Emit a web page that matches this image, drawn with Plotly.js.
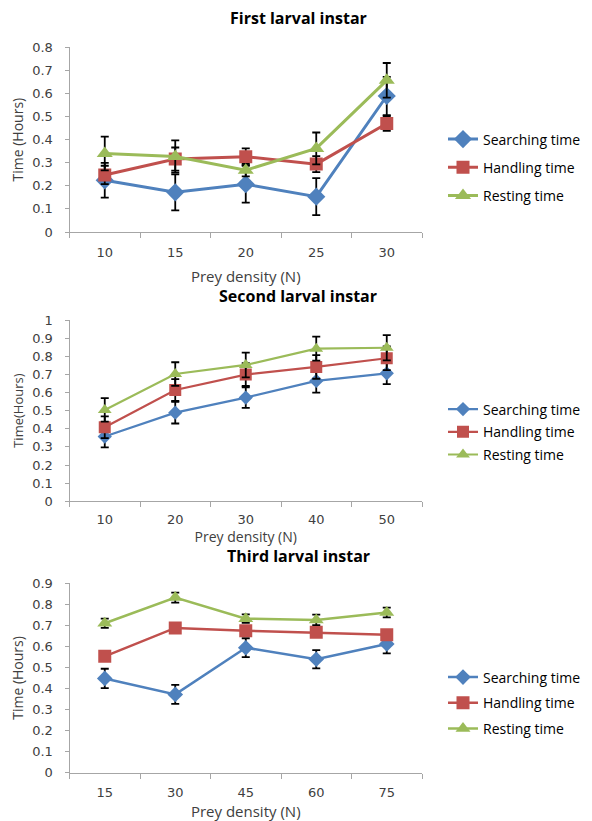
<!DOCTYPE html>
<html>
<head>
<meta charset="utf-8">
<script src="https://cdn.plot.ly/plotly-3.0.1.min.js"></script>
<style>html,body{margin:0;padding:0;background:#fff;}#chart{width:592px;height:821px;}</style>
</head>
<body>
<div id="chart"></div>
<script>
// ---- data ----
var seriesNames = ["Searching time", "Handling time", "Resting time"];
var panelTitles = ["First larval instar", "Second larval instar", "Third larval instar"];
var yTitles = ["Time (Hours)", "Time(Hours)", "Time (Hours)"];
var xTitle = "Prey density (N)";

var firstX = ["10", "15", "20", "25", "30"];
var firstSearch = [0.224, 0.172, 0.207, 0.153, 0.589];
var firstSearchErr = [0.075, 0.078, 0.080, 0.080, 0.083];
var firstHandle = [0.247, 0.316, 0.326, 0.294, 0.470];
var firstHandleErr = [0.040, 0.050, 0.036, 0.035, 0.032];
var firstRest = [0.340, 0.327, 0.268, 0.362, 0.657];
var firstRestErr = [0.073, 0.070, 0.027, 0.069, 0.075];

var secondX = ["10", "20", "30", "40", "50"];
var secondSearch = [0.357, 0.489, 0.572, 0.664, 0.706];
var secondSearchErr = [0.060, 0.060, 0.057, 0.065, 0.060];
var secondHandle = [0.408, 0.614, 0.699, 0.741, 0.789];
var secondHandleErr = [0.060, 0.060, 0.063, 0.065, 0.065];
var secondRest = [0.504, 0.702, 0.752, 0.842, 0.847];
var secondRestErr = [0.065, 0.065, 0.068, 0.066, 0.070];

var thirdX = ["15", "30", "45", "60", "75"];
var thirdSearch = [0.448, 0.372, 0.594, 0.539, 0.612];
var thirdSearchErr = [0.046, 0.045, 0.045, 0.043, 0.045];
var thirdHandle = [0.553, 0.688, 0.675, 0.667, 0.656];
var thirdHandleErr = [0.010, 0.010, 0.010, 0.010, 0.010];
var thirdRest = [0.710, 0.832, 0.732, 0.726, 0.761];
var thirdRestErr = [0.022, 0.024, 0.020, 0.025, 0.023];

var yRanges = [[0, 0.8], [0, 1], [0, 0.9]];
var yDtick = [0.1, 0.1, 0.1];

// ---- styling ----
var colors = ["#4F81BD", "#C0504D", "#9BBB59"];
var symbols = ["diamond", "square", "triangle-up"];
var W = 592, H = 821;
var xDom = [69.5 / W, 422 / W];
var yDoms = [
  [1 - 232 / H, 1 - 47.3 / H],
  [1 - 501.3 / H, 1 - 320 / H],
  [1 - 772.7 / H, 1 - 583.3 / H]
];
var lineW = [3, 2.2, 2.5];
var markerSizes = [[14, 13, 14], [11, 12, 12], [12, 13, 13]];
var titleY = [18, 296, 556];
var legendTop = [123.5, 393.5, 661.5];
var legendGap = [7, 1.5, 4.5];
var yTitleSize = [14, 13, 14];
var xTickStandoff = [8, 6, 8];
var xTitleStandoff = [12, 3, 8];
var xTitleSize = [15, 14, 15];
var axisGray = "#a6a6a6";

var panels = [
  {x: firstX, ys: [firstSearch, firstHandle, firstRest], es: [firstSearchErr, firstHandleErr, firstRestErr]},
  {x: secondX, ys: [secondSearch, secondHandle, secondRest], es: [secondSearchErr, secondHandleErr, secondRestErr]},
  {x: thirdX, ys: [thirdSearch, thirdHandle, thirdRest], es: [thirdSearchErr, thirdHandleErr, thirdRestErr]}
];

var data = [];
var layout = {
  width: W, height: H,
  margin: {l: 0, r: 0, t: 0, b: 0},
  paper_bgcolor: "#ffffff", plot_bgcolor: "#ffffff",
  font: {family: "Open Sans, DejaVu Sans, sans-serif", color: "#404040"},
  showlegend: true,
  annotations: []
};

panels.forEach(function (p, i) {
  var n = i + 1;
  var xa = n === 1 ? "x" : "x" + n;
  var ya = n === 1 ? "y" : "y" + n;
  var lg = n === 1 ? "legend" : "legend" + n;
  for (var s = 0; s < 3; s++) {
    data.push({
      type: "scatter", mode: "lines+markers",
      x: p.x, y: p.ys[s],
      name: seriesNames[s],
      xaxis: xa, yaxis: ya, legend: lg,
      legendgroup: "p" + n + "s" + s,
      line: {color: colors[s], width: lineW[i]},
      marker: {color: colors[s], symbol: symbols[s], size: markerSizes[i][s]},
      error_y: {type: "data", array: p.es[s], visible: true, color: "#000000", thickness: 1.8, width: 4}
    });
  }
  layout[xa.replace("x", "xaxis")] = {
    domain: xDom, anchor: ya, type: "category",
    range: [-0.5, p.x.length - 0.5],
    showgrid: false, zeroline: false,
    showline: true, linecolor: axisGray, linewidth: 1,
    ticks: "outside", tickson: "boundaries", ticklen: 5, tickcolor: axisGray,
    ticklabelstandoff: xTickStandoff[i],
    tickfont: {family: "DejaVu Sans, sans-serif", size: 13, color: "#404040"},
    title: {text: xTitle, font: {family: "Open Sans, sans-serif", size: xTitleSize[i], color: "#404040"}, standoff: xTitleStandoff[i]}
  };
  layout[ya.replace("y", "yaxis")] = {
    domain: yDoms[i], anchor: xa,
    range: yRanges[i], dtick: yDtick[i], tick0: 0,
    showgrid: false, zeroline: false,
    showline: true, linecolor: axisGray, linewidth: 1,
    ticks: "outside", ticklen: 4, tickcolor: axisGray,
    ticklabelstandoff: 9,
    tickfont: {family: "DejaVu Sans, sans-serif", size: 13, color: "#404040"},
    title: {text: yTitles[i], font: {family: "Open Sans, sans-serif", size: yTitleSize[i], color: "#404040"}, standoff: 5}
  };
  layout[lg] = {
    x: 443 / W, xanchor: "left",
    y: 1 - legendTop[i] / H, yanchor: "top",
    font: {family: "Open Sans, sans-serif", size: 14, color: "#000000"},
    bgcolor: "rgba(0,0,0,0)",
    tracegroupgap: legendGap[i]
  };
  layout.annotations.push({
    xref: "paper", yref: "paper",
    x: 298 / W, y: 1 - titleY[i] / H,
    xanchor: "center", yanchor: "middle",
    text: "<b>" + panelTitles[i] + "</b>", showarrow: false,
    font: {family: "Open Sans, sans-serif", size: 16, color: "#000000"}
  });
});

Plotly.newPlot("chart", data, layout, {displayModeBar: false, staticPlot: true});
</script>
</body>
</html>
